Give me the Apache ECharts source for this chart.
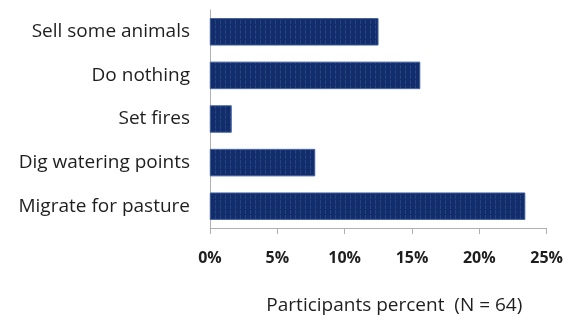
<!DOCTYPE html>
<html>
<head>
<meta charset="utf-8">
<script src="https://cdn.jsdelivr.net/npm/echarts@6/dist/echarts.min.js"></script>
<style>
  html, body { margin: 0; padding: 0; background: #fff; }
  #chart { width: 566px; height: 320px; }
</style>
</head>
<body>
<div id="chart"></div>
<script>
// categories bottom to top (as ECharts draws a category y axis)
var categories = ['Migrate for pasture', 'Dig watering points', 'Set fires', 'Do nothing', 'Sell some animals'];
var percents = [23.4, 7.8, 1.6, 15.6, 12.5];
var tickValues = [0, 5, 10, 15, 20, 25];

var chart = echarts.init(document.getElementById('chart'));
var option = {
  animation: false,
  aria: { enabled: true, decal: { show: true } },
  grid: { left: 210, right: 15, top: 10, bottom: 92 },
  xAxis: {
    type: 'value',
    min: tickValues[0],
    max: tickValues[tickValues.length - 1],
    interval: 5,
    name: 'Participants percent  (N = 64)',
    nameLocation: 'middle',
    nameGap: 68,
    nameTextStyle: { fontFamily: 'Open Sans', fontSize: 19, color: '#1e1e1e', padding: [0, 0, 0, 32] },
    axisLine: { show: true, lineStyle: { color: '#b0b0b0', width: 1 } },
    axisTick: { show: true, length: 6, lineStyle: { color: '#b0b0b0' } },
    splitLine: { show: false },
    axisLabel: {
      formatter: '{value}%',
      fontFamily: 'Open Sans', fontSize: 16, fontWeight: 'bold', color: '#1e1e1e',
      margin: 22
    }
  },
  yAxis: {
    type: 'category',
    data: categories,
    axisLine: { show: true, lineStyle: { color: '#b0b0b0', width: 1 } },
    axisTick: { show: false },
    axisLabel: { fontFamily: 'Open Sans', fontSize: 19, color: '#1e1e1e', margin: 20 }
  },
  series: [{
    type: 'bar',
    data: percents,
    barCategoryGap: '38%',
    itemStyle: {
      color: '#132d6b',
      borderColor: '#3a5a9a',
      borderWidth: 0.6,
      decal: {
        symbol: 'rect',
        color: 'rgba(70,110,180,0.35)',
        dashArrayX: [1, 4],
        dashArrayY: [4, 1],
        rotation: 0
      }
    }
  }]
};
chart.setOption(option);
</script>
</body>
</html>
